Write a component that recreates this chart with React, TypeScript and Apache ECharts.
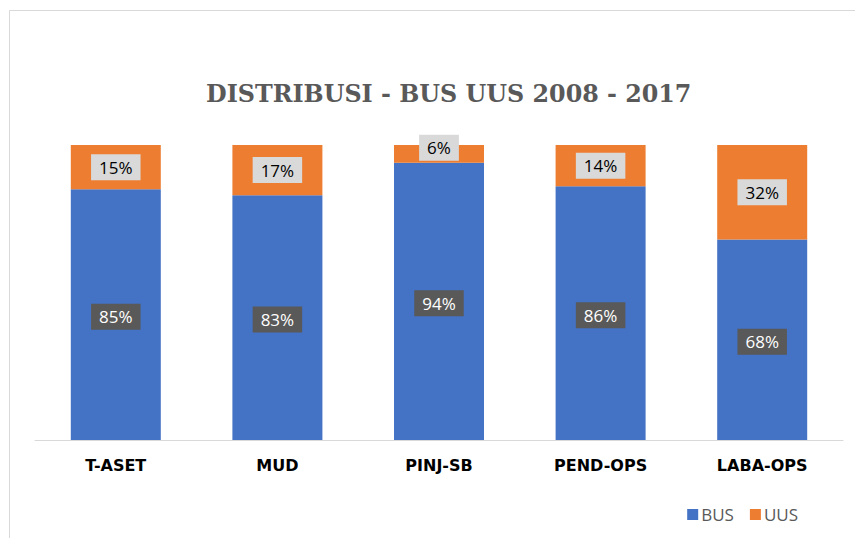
import React, { useEffect, useRef } from "react";
import * as echarts from "echarts";

const categories = ["T-ASET", "MUD", "PINJ-SB", "PEND-OPS", "LABA-OPS"];
const busValues = [85, 83, 94, 86, 68];
const uusValues = [15, 17, 6, 14, 32];
const titleText = "DISTRIBUSI - BUS UUS 2008 - 2017";

export default function App() {
  const ref = useRef<HTMLDivElement>(null);
  useEffect(() => {
    if (!ref.current) return;
    const chart = echarts.init(ref.current, null, { renderer: "svg" });
    chart.setOption({
      animation: false,
      backgroundColor: "#fff",
      title: {
        text: titleText,
        left: 201,
        top: 77,
        textStyle: {
          fontFamily: "DejaVu Serif",
          fontWeight: "bold",
          fontSize: 23.8,
          color: "#595959",
        },
      },
      graphic: [
        {
          type: "rect",
          shape: { x: 9.5, y: 10.5, width: 900, height: 600 },
          style: { fill: "none", stroke: "#d9d9d9", lineWidth: 1 },
          silent: true,
        },
      ],
      legend: {
        data: ["BUS", "UUS"],
        right: 52,
        top: 501,
        itemWidth: 11,
        itemHeight: 11,
        itemGap: 16,
        icon: "rect",
        textStyle: { fontFamily: "Open Sans", fontSize: 17, color: "#595959", padding: [0, 0, 0, -2] },
      },
      grid: { left: 35, right: 12, top: 145, bottom: 98, containLabel: false },
      xAxis: {
        type: "category",
        data: categories,
        axisLine: { lineStyle: { color: "#d9d9d9", width: 1 } },
        axisTick: { show: false },
        axisLabel: {
          fontFamily: "DejaVu Sans",
          fontWeight: "bold",
          fontSize: 16,
          color: "#000",
          margin: 17,
        },
      },
      yAxis: { type: "value", min: 0, max: 100, show: false, splitLine: { show: false } },
      series: [
        {
          name: "BUS",
          type: "bar",
          stack: "total",
          data: busValues,
          barWidth: 90,
          itemStyle: { color: "#4472C4" },
          label: {
            show: true,
            position: "inside",
            offset: [0, 2],
            formatter: "{c}%",
            backgroundColor: "#595959",
            color: "#fff",
            fontFamily: "Open Sans",
            fontSize: 17,
            padding: [5, 8, 4, 8],
          },
        },
        {
          name: "UUS",
          type: "bar",
          stack: "total",
          data: uusValues.map((v) =>
            v < 10 ? { value: v, label: { offset: [0, -6] } } : v
          ),
          barWidth: 90,
          itemStyle: { color: "#ED7D31" },
          label: {
            show: true,
            position: "inside",
            formatter: "{c}%",
            backgroundColor: "#D9D9D9",
            color: "#000",
            fontFamily: "Open Sans",
            fontSize: 17,
            padding: [5, 8, 4, 8],
          },
        },
      ],
    });
    return () => chart.dispose();
  }, []);
  return (
    <div
      ref={ref}
      style={{ position: "fixed", left: 0, top: 0, width: 855, height: 538 }}
    />
  );
}
